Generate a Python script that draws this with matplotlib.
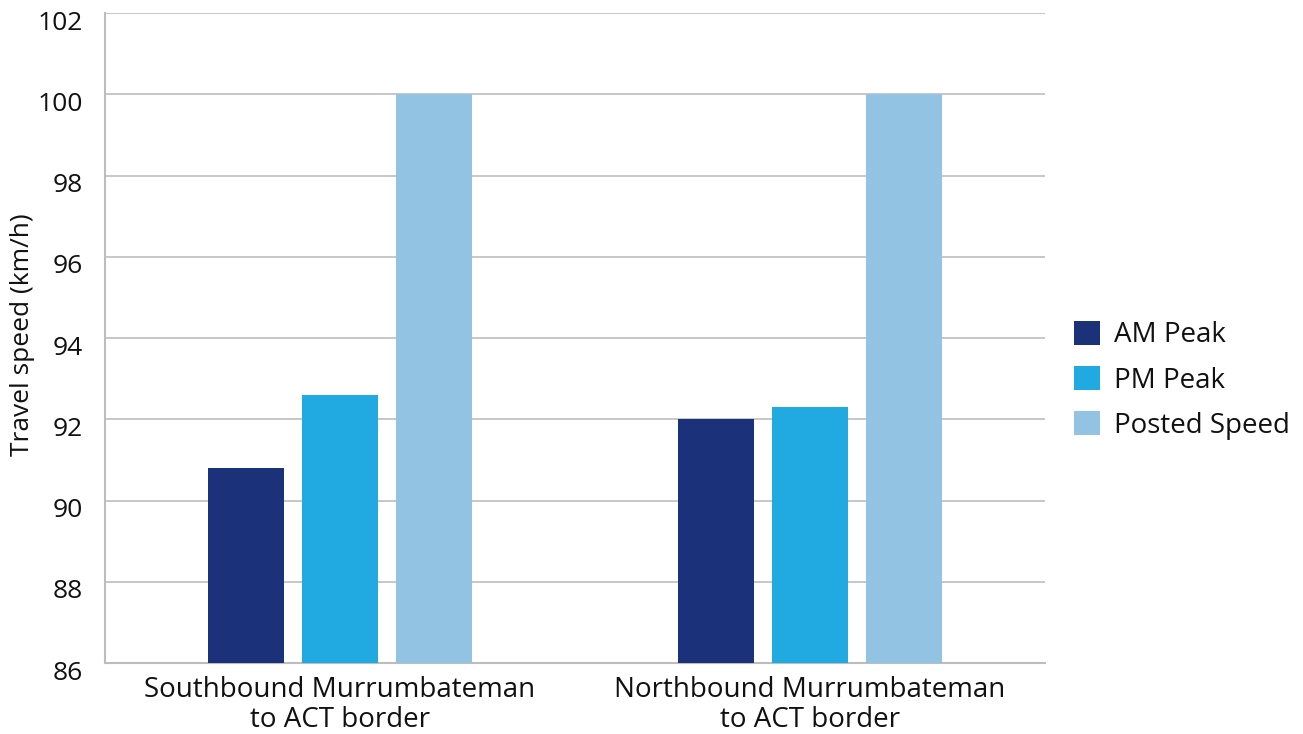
import matplotlib.pyplot as plt
import matplotlib.transforms as mtransforms
import numpy as np

# Data
categories = [
    "Southbound Murrumbateman\nto ACT border",
    "Northbound Murrumbateman\nto ACT border",
]
series_names = ["AM Peak", "PM Peak", "Posted Speed"]
am_peak = [90.8, 92.0]
pm_peak = [92.6, 92.3]
posted_speed = [100, 100]
y_ticks = [86, 88, 90, 92, 94, 96, 98, 100, 102]

colors = ["#1b3179", "#21a9e1", "#93c3e3"]

plt.rcParams["font.family"] = ["Open Sans", "DejaVu Sans"]

fig = plt.figure(figsize=(13.03, 7.34), dpi=100)
ax = fig.add_axes([0.0806, 0.0967, 0.7214, 0.8855])

x = np.arange(len(categories))
width = 0.162
step = 0.2

for i, (name, vals) in enumerate(zip(series_names, [am_peak, pm_peak, posted_speed])):
    ax.bar(
        x + (i - 1) * step,
        [v - 86 for v in vals],
        bottom=86,
        width=width,
        color=colors[i],
        label=name,
        zorder=3
    )

ax.set_xlim(-0.5, 1.5)
ax.set_ylim(86, 102)
ax.set_yticks(y_ticks)
ax.set_xticks(x)
ax.set_xticklabels(categories, fontsize=20, color="#111111", linespacing=1.1)

ax.grid(axis="y", color="#bdbdbd", linewidth=1.2, zorder=0)
ax.tick_params(axis="both", length=0, colors="#111111")
ax.tick_params(axis="y", pad=16, labelsize=19)
ax.tick_params(axis="x", pad=9)

# y labels sit slightly below their gridlines
offset = mtransforms.ScaledTranslation(0, -7 / 100, fig.dpi_scale_trans)
for lbl in ax.get_yticklabels():
    lbl.set_transform(lbl.get_transform() + offset)

for side in ["top", "right"]:
    ax.spines[side].set_visible(False)
for side in ["left", "bottom"]:
    ax.spines[side].set_color("#bdbdbd")
    ax.spines[side].set_linewidth(1.5)

ax.set_ylabel("Travel speed (km/h)", fontsize=19, color="#111111")
ax.yaxis.set_label_coords(-0.075, 0.505)

ax.legend(
    loc="center left",
    bbox_to_anchor=(1.004, 0.435),
    frameon=False,
    fontsize=20,
    handlelength=0.95,
    handleheight=0.95,
    handletextpad=0.5,
    labelspacing=0.6,
    labelcolor="#111111"
)

fig.savefig("out.png", dpi=100)
